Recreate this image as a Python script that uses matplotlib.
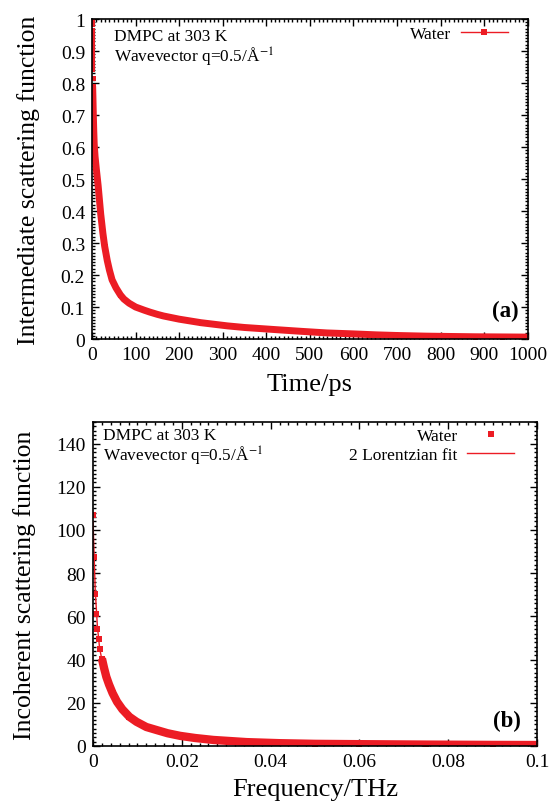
import matplotlib
matplotlib.use("Agg")
import matplotlib.pyplot as plt
from matplotlib.lines import Line2D
from matplotlib.ticker import MultipleLocator

# (a) intermediate scattering function, water
time_ps = [0, 0.1, 0.2, 0.3, 0.4, 0.5, 0.6, 0.7, 0.8, 0.9, 1.0, 1.2, 1.4, 2, 3, 4, 5, 7,
           10, 14, 17, 20, 25, 29, 35, 40, 46, 55, 65, 73, 85, 100, 120, 133, 150, 164,
           200, 250, 311, 350, 425, 480, 539, 600, 652, 700, 766, 820, 880, 940, 1000]
isf_water = [1.0, 0.983, 0.966, 0.95, 0.934, 0.918, 0.902, 0.887, 0.872, 0.857, 0.843,
             0.815, 0.79, 0.76, 0.70, 0.65, 0.61, 0.57, 0.53, 0.48, 0.435, 0.39, 0.33,
             0.29, 0.245, 0.215, 0.185, 0.16, 0.138, 0.125, 0.112, 0.10, 0.09, 0.084,
             0.077, 0.072, 0.062, 0.051, 0.041, 0.036, 0.029, 0.024, 0.019, 0.016, 0.013,
             0.011, 0.009, 0.008, 0.007, 0.0065, 0.006]

# (b) incoherent scattering function, water + fit
freq_thz = [0, 0.00025, 0.0005, 0.00075, 0.001, 0.00125, 0.0015, 0.002, 0.0025, 0.003,
            0.0036, 0.0044, 0.0054, 0.0066, 0.0082, 0.0098, 0.012, 0.0143, 0.0168, 0.0196,
            0.023, 0.0271, 0.0346, 0.0421, 0.05, 0.06, 0.075, 0.09, 0.1]
sqw_water = [107, 87.5, 70.5, 61, 54, 49.5, 45, 40.5, 36, 32, 28.5, 24.5, 20.5, 17, 13.5,
             11.2, 8.8, 7.4, 5.9, 4.7, 3.7, 2.8, 1.8, 1.3, 1.0, 0.85, 0.65, 0.5, 0.45]
fit_freq = [0, 0.0005, 0.001, 0.0015, 0.002, 0.003, 0.005, 0.0075, 0.01, 0.015, 0.02,
            0.03, 0.04, 0.05, 0.06, 0.07, 0.08, 0.09, 0.1]
fit_vals = [104, 72, 55, 45, 40, 32, 22, 15.5, 11, 7.2, 4.8, 2.4, 1.5, 1.0, 0.75, 0.55,
            0.45, 0.38, 0.33]

red = '#ec1c24'
plt.rcParams['font.family'] = ['Liberation Serif', 'DejaVu Serif']
plt.rcParams['mathtext.fontset'] = 'stix'

fig = plt.figure(figsize=(5.53, 8.04), dpi=100)

def style(ax):
	ax.tick_params(which='both', direction='in', top=True, right=True, labelsize=14, width=1)
	ax.tick_params(which='major', length=5, pad=5)
	ax.tick_params(which='minor', length=2.5)
	for s in ax.spines.values():
		s.set_linewidth(1.2)

# panel (a)
ax1 = fig.add_axes([0.1664, 0.5771, 0.788, 0.398])
# dense part of the series merges into a band, first points stay apart
ax1.plot(time_ps[12:], isf_water[12:], '-', color=red, lw=5, solid_capstyle='butt')
ax1.plot(time_ps, isf_water, 's', color=red, ms=3.6, mew=0)
ax1.set_xlim(0, 1000)
ax1.set_ylim(0, 1)
ax1.xaxis.set_major_locator(MultipleLocator(100))
ax1.xaxis.set_minor_locator(MultipleLocator(10))
ax1.yaxis.set_major_locator(MultipleLocator(0.1))
ax1.yaxis.set_minor_locator(MultipleLocator(0.01))
ax1.yaxis.set_major_formatter(plt.FuncFormatter(lambda v, p: '%g' % round(v, 2)))
style(ax1)
ax1.set_xlabel('Time/ps', fontsize=19, labelpad=7)
ax1.set_ylabel('Intermediate scattering function', fontsize=18.5, labelpad=15)
ax1.text(0.05, 0.972, 'DMPC at 303 K\nWavevector q=0.5/Å$^{-1}$', transform=ax1.transAxes,
	ha='left', va='top', fontsize=12.4, linespacing=1.05)
ax1.text(0.979, 0.088, '(a)', transform=ax1.transAxes, ha='right', va='center',
	fontsize=16.5, fontweight='bold')
h1 = Line2D([], [], color=red, lw=1, marker='s', ms=4.5, mew=0)
ax1.legend([h1], ['Water'], loc='upper right', bbox_to_anchor=(0.970, 1.0),
	frameon=False, markerfirst=False, fontsize=12.5, handlelength=2.7,
	borderaxespad=0, handletextpad=0.55)

# panel (b)
ax2 = fig.add_axes([0.1682, 0.0709, 0.803, 0.403])
ax2.plot(fit_freq, fit_vals, '-', color=red, lw=1)
ax2.plot(freq_thz[7:], sqw_water[7:], '-', color=red, lw=6, solid_capstyle='butt')
ax2.plot(freq_thz, sqw_water, 's', color=red, ms=4.5, mew=0)
ax2.set_xlim(0, 0.1)
ax2.set_ylim(0, 150)
ax2.xaxis.set_major_locator(MultipleLocator(0.02))
ax2.xaxis.set_minor_locator(MultipleLocator(0.002))
ax2.yaxis.set_major_locator(MultipleLocator(20))
ax2.yaxis.set_minor_locator(MultipleLocator(2))
ax2.xaxis.set_major_formatter(plt.FuncFormatter(lambda v, p: '%g' % round(v, 3)))
style(ax2)
ax2.set_xlabel('Frequency/THz', fontsize=19, labelpad=6)
ax2.set_ylabel('Incoherent scattering function', fontsize=18.5, labelpad=15)
ax2.text(0.0225, 0.985, 'DMPC at 303 K\nWavevector q=0.5/Å$^{-1}$', transform=ax2.transAxes,
	ha='left', va='top', fontsize=12.4, linespacing=1.05)
ax2.text(0.963, 0.078, '(b)', transform=ax2.transAxes, ha='right', va='center',
	fontsize=16.5, fontweight='bold')
h2 = Line2D([], [], color=red, lw=0, marker='s', ms=5, mew=0)
h3 = Line2D([], [], color=red, lw=1)
ax2.legend([h2, h3], ['Water', '2 Lorentzian fit'], loc='upper right',
	bbox_to_anchor=(0.964, 1.003), frameon=False, markerfirst=False, fontsize=12.5,
	handlelength=2.7, borderaxespad=0, labelspacing=0.15, handletextpad=0.55)

fig.savefig('out.png', dpi=100)
